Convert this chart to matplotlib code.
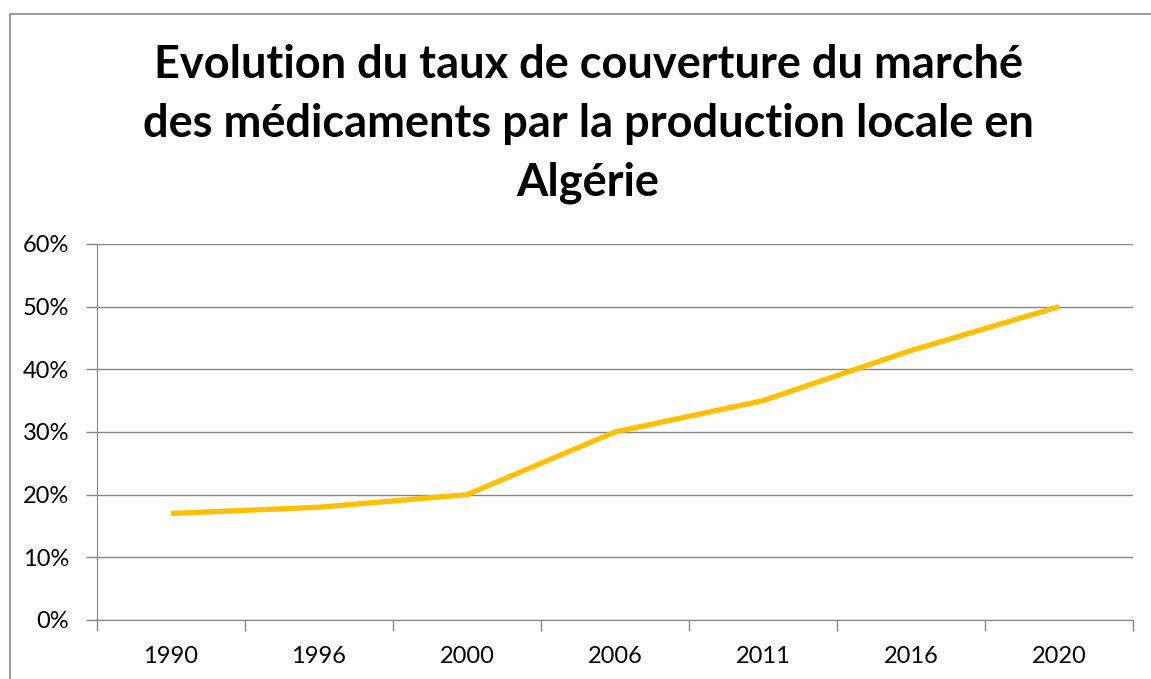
import matplotlib.pyplot as plt
from matplotlib.patches import Rectangle
from matplotlib.ticker import FixedLocator, NullFormatter

# data
years = ['1990', '1996', '2000', '2006', '2011', '2016', '2020']
taux = [0.17, 0.18, 0.20, 0.30, 0.35, 0.43, 0.50]
yticks = [0, 0.1, 0.2, 0.3, 0.4, 0.5, 0.6]
title = ('Evolution du taux de couverture du marché\n'
         'des médicaments par la production locale en\n'
         'Algérie')

plt.rcParams['font.family'] = ['Lato', 'DejaVu Sans']

W, H = 1151, 679
fig = plt.figure(figsize=(W/100, H/100), dpi=100)
ax = fig.add_axes([97/W, (H-620)/H, (1133-97)/W, (620-244)/H])

x = range(len(years))
ax.plot(x, taux, color='#FFC000', linewidth=3.8, solid_capstyle='butt')

ax.set_xlim(-0.5, len(years)-0.5)
ax.set_ylim(0, 0.6)
ax.set_yticks(yticks)
ax.set_yticklabels(['%d%%' % round(v*100) for v in yticks])
ax.yaxis.grid(True, color='#868686', linewidth=1)
ax.set_axisbelow(True)

# category axis: ticks between categories, labels centred
ax.xaxis.set_major_locator(FixedLocator([i - 0.5 for i in range(len(years)+1)]))
ax.xaxis.set_major_formatter(NullFormatter())
ax.xaxis.set_minor_locator(FixedLocator(list(x)))
ax.set_xticklabels(years, minor=True)
ax.tick_params(axis='x', which='major', length=8, color='#868686', width=1, direction='out')
ax.tick_params(axis='x', which='minor', length=0, pad=19, labelsize=17)
ax.tick_params(axis='y', length=8, color='#868686', width=1, labelsize=17, pad=12)

for s in ['top', 'right']:
    ax.spines[s].set_visible(False)
ax.spines['left'].set_color('#868686')
ax.spines['bottom'].set_color('#868686')

fig.text(588/W, 1 - 44/H, title, ha='center', va='top', fontsize=32.5,
         fontweight='bold', linespacing=1.5)

# chart area border
fig.patches.append(Rectangle((10/W, -0.1), 1.2, 1 - 14/H + 0.1,
                             transform=fig.transFigure, fill=False,
                             edgecolor='#8c8c8c', linewidth=1.2))

fig.savefig('out.png', dpi=100)
